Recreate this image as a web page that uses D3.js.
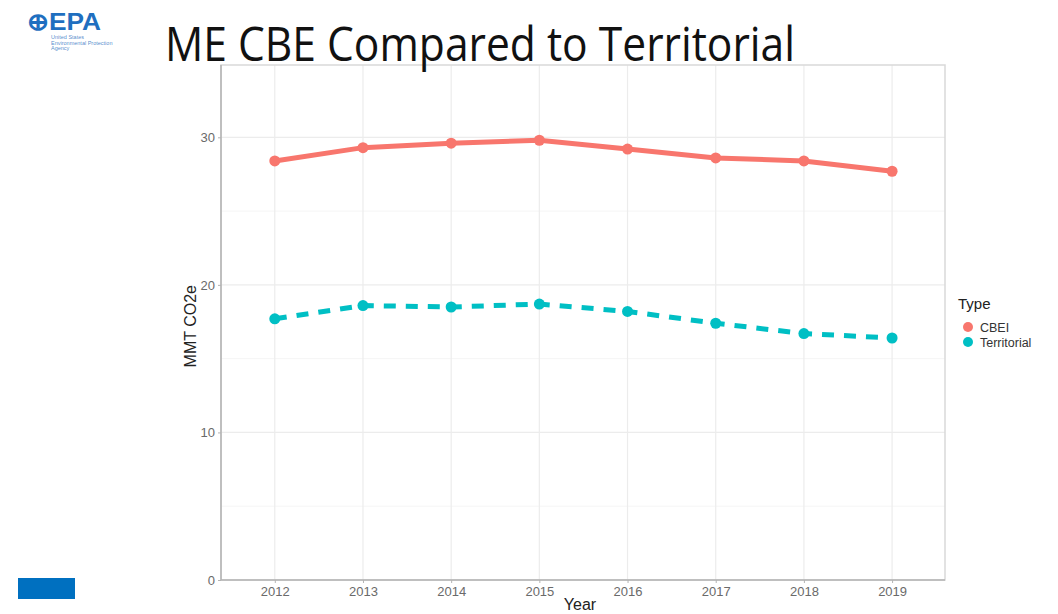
<!DOCTYPE html>
<html>
<head>
<meta charset="utf-8">
<script src="https://cdn.jsdelivr.net/npm/d3@7"></script>
<style>
  html, body { margin: 0; padding: 0; background: #ffffff; }
  svg { display: block; }
</style>
</head>
<body>
<svg id="chart" width="1058" height="614"></svg>
<script>
// Emissions by year, million metric tons CO2e
const years = [2012, 2013, 2014, 2015, 2016, 2017, 2018, 2019];
const cbeiValues = [28.4, 29.3, 29.6, 29.8, 29.2, 28.6, 28.4, 27.7];
const territorialValues = [17.7, 18.6, 18.5, 18.7, 18.2, 17.4, 16.7, 16.4];
const seriesNames = ["CBEI", "Territorial"];
const seriesColors = ["#F8766D", "#00BFC4"];
const yTicks = [0, 10, 20, 30];

const svg = d3.select("#chart");

// Plot panel bounds
const panel = { left: 221, right: 945, top: 65, bottom: 580 };

const x = d3.scaleLinear().domain([2011.39, 2019.6]).range([panel.left, panel.right]);
const y = d3.scaleLinear().domain([0, 34.9]).range([panel.bottom, panel.top]);

// Panel grid
const grid = svg.append("g");
const minorY = [5, 15, 25];
grid.selectAll("line.ym").data(minorY).join("line")
  .attr("x1", panel.left).attr("x2", panel.right)
  .attr("y1", d => y(d)).attr("y2", d => y(d))
  .attr("stroke", "#f5f5f5").attr("stroke-width", 1);
grid.selectAll("line.yM").data(yTicks.slice(1)).join("line")
  .attr("x1", panel.left).attr("x2", panel.right)
  .attr("y1", d => y(d)).attr("y2", d => y(d))
  .attr("stroke", "#ececec").attr("stroke-width", 1.2);
grid.selectAll("line.xM").data(years).join("line")
  .attr("x1", d => x(d)).attr("x2", d => x(d))
  .attr("y1", panel.top).attr("y2", panel.bottom)
  .attr("stroke", "#ececec").attr("stroke-width", 1.2);

// Panel border
svg.append("rect")
  .attr("x", panel.left).attr("y", panel.top)
  .attr("width", panel.right - panel.left).attr("height", panel.bottom - panel.top)
  .attr("fill", "none").attr("stroke", "#d9d9d9").attr("stroke-width", 1.5);

// Axes
const yAxis = d3.axisLeft(y).tickValues(yTicks).tickSize(3).tickPadding(3).tickFormat(d3.format("d"));
const xAxis = d3.axisBottom(x).tickValues(years).tickSize(3).tickPadding(4).tickFormat(d3.format("d"));

const gy = svg.append("g").attr("transform", `translate(${panel.left},0)`).call(yAxis);
const gx = svg.append("g").attr("transform", `translate(0,${panel.bottom})`).call(xAxis);
[gx, gy].forEach(g => {
  g.select(".domain").attr("stroke", "#b3b3b3").attr("stroke-width", 1.5);
  g.selectAll(".tick line").attr("stroke", "#b3b3b3");
  g.selectAll(".tick text").attr("fill", "#6a6a6a").attr("font-size", 13)
    .attr("font-family", "Liberation Sans, Arial, sans-serif");
});
gx.select(".domain").attr("d", `M${panel.left},0H${panel.right}`);
gy.select(".domain").attr("d", `M0,${panel.top}V${panel.bottom}`);

// Axis titles
svg.append("text")
  .attr("x", 580).attr("y", 610)
  .attr("text-anchor", "middle")
  .attr("font-family", "Liberation Sans, Arial, sans-serif")
  .attr("font-size", 16).attr("fill", "#222")
  .text("Year");
svg.append("text")
  .attr("transform", `translate(196,${y(17.2)}) rotate(-90)`)
  .attr("text-anchor", "middle")
  .attr("font-family", "Liberation Sans, Arial, sans-serif")
  .attr("font-size", 16).attr("fill", "#222")
  .text("MMT CO2e");

// Series lines and points
const series = [
  { name: seriesNames[0], values: cbeiValues, color: seriesColors[0], dash: null },
  { name: seriesNames[1], values: territorialValues, color: seriesColors[1], dash: "12,10" }
];
const line = d3.line().x((d, i) => x(years[i])).y(d => y(d));

series.forEach(s => {
  svg.append("path")
    .datum(s.values)
    .attr("d", line)
    .attr("fill", "none")
    .attr("stroke", s.color)
    .attr("stroke-width", 5)
    .attr("stroke-dasharray", s.dash);
  svg.append("g").selectAll("circle").data(s.values).join("circle")
    .attr("cx", (d, i) => x(years[i]))
    .attr("cy", d => y(d))
    .attr("r", 5.5)
    .attr("fill", s.color);
});

// Legend
const legend = svg.append("g").attr("transform", "translate(958,0)");
legend.append("text")
  .attr("x", 0).attr("y", 309)
  .attr("font-family", "Liberation Sans, Arial, sans-serif")
  .attr("font-size", 15).attr("fill", "#222")
  .text("Type");
series.forEach((s, i) => {
  const yy = 327 + i * 15;
  legend.append("circle").attr("cx", 10).attr("cy", yy).attr("r", 5).attr("fill", s.color);
  legend.append("text")
    .attr("x", 22).attr("y", yy + 4.5)
    .attr("font-family", "Liberation Sans, Arial, sans-serif")
    .attr("font-size", 12.5).attr("fill", "#333")
    .text(s.name);
});

// Slide title
svg.append("text")
  .attr("x", 165).attr("y", 61)
  .attr("font-family", "Open Sans, Liberation Sans, sans-serif")
  .attr("font-size", 47).attr("fill", "#111")
  .attr("textLength", 630).attr("lengthAdjust", "spacingAndGlyphs")
  .text("ME CBE Compared to Territorial");

// Agency logo
const logo = svg.append("g").attr("fill", "#1f6fc0");
logo.append("text")
  .attr("x", 27).attr("y", 30)
  .attr("font-family", "Liberation Sans, Arial, sans-serif")
  .attr("font-weight", "bold").attr("font-size", 24)
  .attr("textLength", 74).attr("lengthAdjust", "spacingAndGlyphs")
  .text("\u2295EPA");
["United States", "Environmental Protection", "Agency"].forEach((t, i) => {
  logo.append("text")
    .attr("x", 51).attr("y", 39 + i * 5.5)
    .attr("font-family", "Liberation Sans, Arial, sans-serif")
    .attr("font-size", 5.5).attr("fill-opacity", 0.8)
    .text(t);
});

// Footer accent bar
svg.append("rect")
  .attr("x", 18).attr("y", 578).attr("width", 57).attr("height", 21)
  .attr("fill", "#0070C0");
</script>
</body>
</html>
